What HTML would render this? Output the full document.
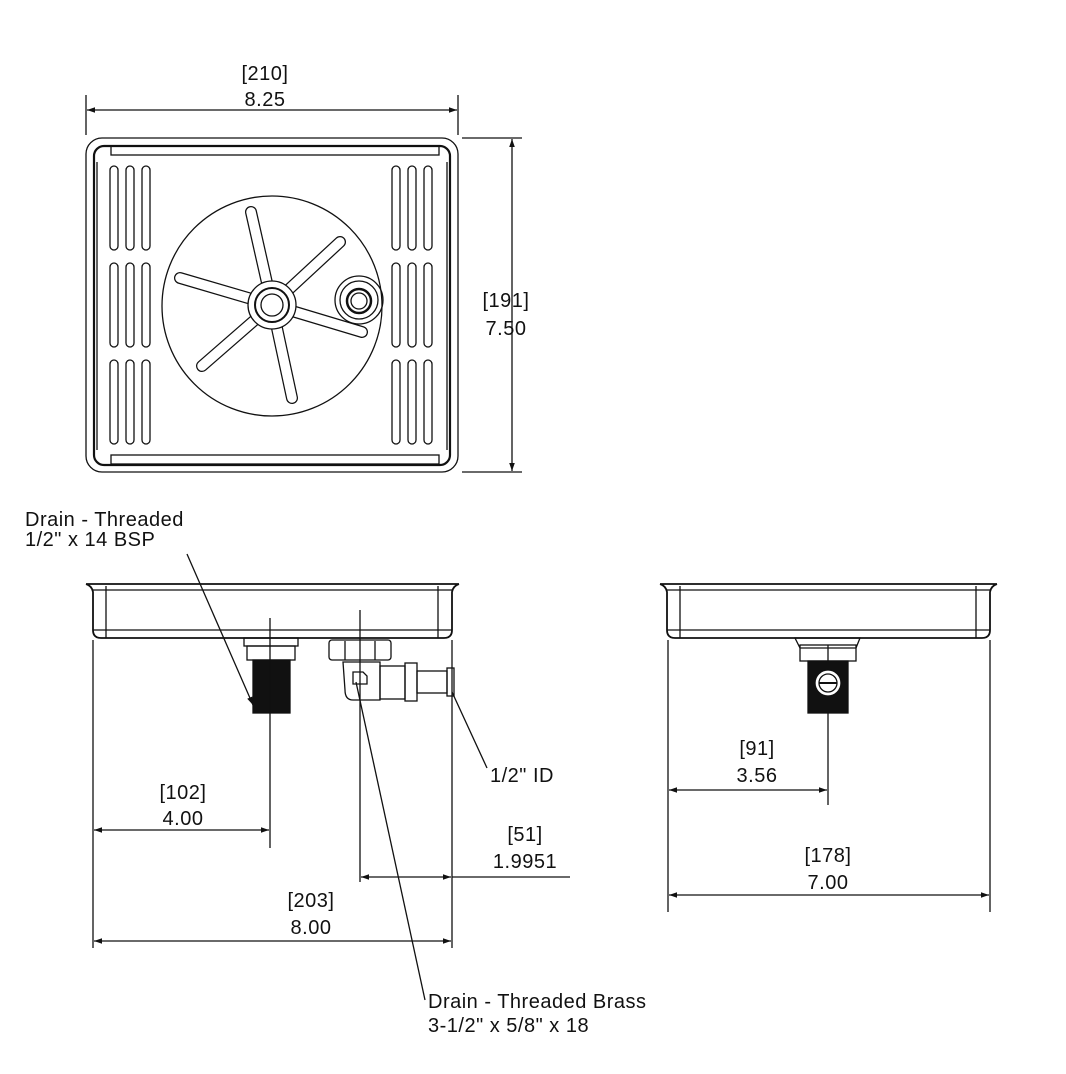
<!DOCTYPE html>
<html><head><meta charset="utf-8"><style>html,body{margin:0;padding:0;background:#fff}svg{display:block}text{font-family:"Liberation Sans",sans-serif;font-size:20px;fill:#111;letter-spacing:0.5px}</style></head><body>
<svg width="1066" height="1074" viewBox="0 0 1066 1074" xmlns="http://www.w3.org/2000/svg">
<defs>
<marker id="a" viewBox="0 0 10 10" refX="10" refY="5" markerWidth="16" markerHeight="8" markerUnits="userSpaceOnUse" orient="auto-start-reverse"><path d="M0,1.5 L10,5 L0,8.5z" fill="#111"/></marker>
</defs>
<g fill="none" stroke="#111" stroke-width="1.3">
<rect x="86" y="138" width="372" height="334" rx="16"/>
<rect x="94" y="146" width="356" height="319" rx="10" stroke-width="2.2"/>
<rect x="111" y="146" width="328" height="9"/>
<rect x="111" y="455" width="328" height="9"/>
<line x1="97" y1="162" x2="97" y2="450"/><line x1="447" y1="162" x2="447" y2="450"/>
<g id="sl">
<rect x="110" y="166" width="8" height="84" rx="4"/><rect x="126" y="166" width="8" height="84" rx="4"/><rect x="142" y="166" width="8" height="84" rx="4"/>
<rect x="110" y="263" width="8" height="84" rx="4"/><rect x="126" y="263" width="8" height="84" rx="4"/><rect x="142" y="263" width="8" height="84" rx="4"/>
<rect x="110" y="360" width="8" height="84" rx="4"/><rect x="126" y="360" width="8" height="84" rx="4"/><rect x="142" y="360" width="8" height="84" rx="4"/>
</g>
<use href="#sl" x="282"/>
<circle cx="272" cy="306" r="110"/>
<g stroke-width="12" stroke-linecap="round" stroke="#111">
<line x1="272" y1="305" x2="251" y2="212"/><line x1="272" y1="305" x2="340" y2="242"/><line x1="272" y1="305" x2="180" y2="278"/><line x1="272" y1="305" x2="362" y2="332"/><line x1="272" y1="305" x2="202" y2="366"/><line x1="272" y1="305" x2="292" y2="398"/>
</g>
<g stroke-width="9.5" stroke-linecap="round" stroke="#fff">
<line x1="272" y1="305" x2="251" y2="212"/><line x1="272" y1="305" x2="340" y2="242"/><line x1="272" y1="305" x2="180" y2="278"/><line x1="272" y1="305" x2="362" y2="332"/><line x1="272" y1="305" x2="202" y2="366"/><line x1="272" y1="305" x2="292" y2="398"/>
</g>
<circle cx="272" cy="305" r="24" fill="#fff"/><circle cx="272" cy="305" r="17" stroke-width="2"/><circle cx="272" cy="305" r="11"/>
<circle cx="359" cy="300" r="24"/><circle cx="359" cy="300" r="19"/><circle cx="359" cy="301" r="12" stroke-width="2.5"/><circle cx="359" cy="301" r="8"/>
<line x1="86" y1="95" x2="86" y2="135"/><line x1="458" y1="95" x2="458" y2="135"/>
<line x1="87" y1="110" x2="457" y2="110" marker-start="url(#a)" marker-end="url(#a)"/>
<line x1="462" y1="138" x2="522" y2="138"/><line x1="462" y1="472" x2="522" y2="472"/>
<line x1="512" y1="139" x2="512" y2="471" marker-start="url(#a)" marker-end="url(#a)"/>
<path d="M86,584 H459 M86,584 Q92,586 93,592 V630 Q93,638 101,638 H444 Q452,638 452,630 V592 Q453,586 459,584" stroke-width="1.8"/>
<line x1="93" y1="590" x2="452" y2="590"/><line x1="106" y1="586" x2="106" y2="638"/><line x1="438" y1="586" x2="438" y2="638"/><line x1="93" y1="630" x2="452" y2="630"/>
<rect x="244" y="638" width="54" height="8"/><rect x="247" y="646" width="48" height="14"/>
<rect x="253" y="660" width="37" height="53" fill="#111"/>
<rect x="329" y="640" width="62" height="20" rx="3"/><line x1="345" y1="641" x2="345" y2="660"/><line x1="375" y1="641" x2="375" y2="660"/>
<path d="M343,662 H380 V700 H353 Q345,700 345,690 Z"/><path d="M353,672 h10 l4,4 v8 h-14z"/>
<rect x="380" y="666" width="25" height="33"/><rect x="405" y="663" width="12" height="38"/><rect x="417" y="671" width="30" height="22"/><rect x="447" y="668" width="7" height="28"/>
<line x1="93" y1="640" x2="93" y2="948"/><line x1="452" y1="640" x2="452" y2="948"/>
<line x1="270" y1="618" x2="270" y2="848"/><line x1="360" y1="610" x2="360" y2="882"/>
<line x1="94" y1="830" x2="269" y2="830" marker-start="url(#a)" marker-end="url(#a)"/>
<line x1="361" y1="877" x2="451" y2="877" marker-start="url(#a)" marker-end="url(#a)"/><line x1="452" y1="877" x2="570" y2="877"/>
<line x1="94" y1="941" x2="451" y2="941" marker-start="url(#a)" marker-end="url(#a)"/>
<line x1="187" y1="554" x2="253" y2="705" marker-end="url(#a)"/>
<line x1="487" y1="768" x2="452" y2="692"/>
<line x1="425" y1="1000" x2="356" y2="682"/>
<path d="M660,584 H997 M660,584 Q666,586 667,592 V630 Q667,638 675,638 H982 Q990,638 990,630 V592 Q991,586 997,584" stroke-width="1.8"/>
<line x1="667" y1="590" x2="990" y2="590"/><line x1="680" y1="586" x2="680" y2="638"/><line x1="976" y1="586" x2="976" y2="638"/><line x1="667" y1="630" x2="990" y2="630"/>
<path d="M795,638 H860 L856,648 H800Z"/><rect x="800" y="645" width="56" height="16"/><line x1="828" y1="645" x2="828" y2="661"/>
<rect x="808" y="661" width="40" height="52" fill="#111"/>
<circle cx="828" cy="683" r="13" fill="#fff"/><circle cx="828" cy="683" r="9"/><line x1="819" y1="683" x2="837" y2="683" stroke-width="2"/>
<line x1="668" y1="640" x2="668" y2="912"/><line x1="990" y1="640" x2="990" y2="912"/><line x1="828" y1="713" x2="828" y2="805"/>
<line x1="669" y1="790" x2="827" y2="790" marker-start="url(#a)" marker-end="url(#a)"/>
<line x1="669" y1="895" x2="989" y2="895" marker-start="url(#a)" marker-end="url(#a)"/>
</g>
<g text-anchor="middle">
<text x="265" y="80">[210]</text><text x="265" y="106">8.25</text>
<text x="506" y="307">[191]</text><text x="506" y="335">7.50</text>
<text x="183" y="799">[102]</text><text x="183" y="825">4.00</text>
<text x="525" y="841">[51]</text><text x="525" y="868">1.9951</text>
<text x="311" y="907">[203]</text><text x="311" y="934">8.00</text>
<text x="757" y="755">[91]</text><text x="757" y="782">3.56</text>
<text x="828" y="862">[178]</text><text x="828" y="889">7.00</text>
</g>
<text x="25" y="526">Drain - Threaded</text><text x="25" y="546">1/2" x 14 BSP</text>
<text x="490" y="782">1/2" ID</text>
<text x="428" y="1008">Drain - Threaded Brass</text><text x="428" y="1032">3-1/2" x 5/8" x 18</text>
</svg>
</body></html>
